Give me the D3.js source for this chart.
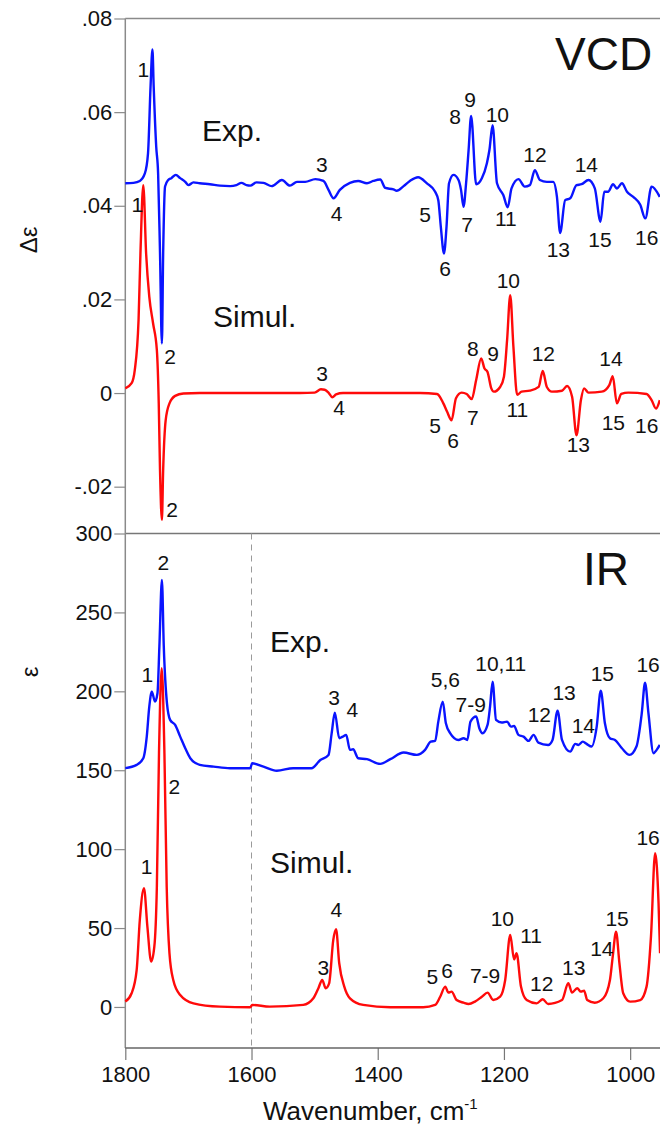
<!DOCTYPE html>
<html>
<head>
<meta charset="utf-8">
<script src="https://cdn.jsdelivr.net/npm/d3@7"></script>
<style>
  body { margin: 0; background: #fff; }
  svg { display: block; font-family: "Liberation Sans", Arial, Helvetica, sans-serif; }
</style>
</head>
<body>
<svg id="viz"></svg>
<script>
// wavenumber (cm-1), delta epsilon
const vcdExp = [[1800,.0448],[1787,.0449],[1777,.0453],[1769,.0469],[1764,.0512],[1760,.0654],[1757,.0734],[1755,.0654],[1751,.0526],[1748,.0469],[1745,.0299],[1742,.0106],[1740,.0299],[1737,.0441],[1732,.0455],[1727,.0459],[1720,.0466],[1713,.0459],[1705,.0451],[1700,.0444],[1692,.0450],[1682,.0448],[1666,.0446],[1650,.0443],[1634,.0442],[1624,.0444],[1616,.0449],[1608,.0444],[1602,.0443],[1592,.0450],[1581,.0449],[1568,.0442],[1552,.0455],[1539,.0443],[1528,.0451],[1515,.0451],[1499,.0457],[1486,.0453],[1478,.0434],[1470,.0416],[1460,.0434],[1444,.0449],[1431,.0453],[1417,.0448],[1407,.0453],[1396,.0456],[1388,.0438],[1375,.0435],[1370,.0432],[1359,.0442],[1349,.0453],[1336,.0461],[1322,.0448],[1309,.0430],[1304,.0412],[1300,.0355],[1295,.0298],[1291,.0355],[1287,.0448],[1280,.0466],[1272,.0455],[1268,.0434],[1264,.0398],[1260,.0448],[1256,.0519],[1252,.0592],[1244,.0446],[1235,.0459],[1227,.0491],[1223,.0519],[1218,.0572],[1211,.0448],[1201,.0423],[1194,.0397],[1188,.0437],[1177,.0457],[1167,.0441],[1159,.0444],[1151,.0476],[1143,.0455],[1132,.0451],[1122,.0451],[1116,.0419],[1111,.0342],[1103,.0412],[1095,.0416],[1085,.0444],[1077,.0446],[1066,.0455],[1056,.0437],[1047,.0366],[1041,.0430],[1035,.0430],[1027,.0446],[1021,.0437],[1013,.0448],[1005,.0430],[995,.0419],[984,.0402],[976,.0373],[966,.0441],[953,.0419]];

const vcdSim = [[1800,.0010],[1790,.0021],[1785,.0049],[1779,.0156],[1776,.0298],[1771.5,.0444],[1767,.0298],[1762,.0206],[1756,.0149],[1750,.0092],[1747,-.0022],[1745,-.0164],[1742,-.0271],[1740,-.0164],[1736,-.0058],[1730,-.0022],[1721,-.0006],[1708,-.0001],[1682,0],[1600,0],[1523,0],[1500,.0001],[1490,.0008],[1484,.0007],[1478,.0001],[1472,-.0009],[1466,-.0003],[1455,0],[1333,0],[1306,-.0002],[1296,-.0022],[1290,-.0040],[1283,-.0058],[1276,-.0011],[1267,.0001],[1259,-.0002],[1251,-.0013],[1244,.0028],[1236,.0074],[1231,.0053],[1226,.0045],[1220,.0010],[1216,.0003],[1206,.0013],[1200,.0035],[1195,.0113],[1190,.0209],[1185,.0099],[1179,-.0004],[1172,.0003],[1159,.0005],[1145,.0013],[1138.5,.0047],[1132,.0013],[1124,.0003],[1108,.0005],[1100,.0015],[1092,-.0008],[1085,-.0090],[1078,-.0015],[1073,.0010],[1066,.0001],[1045,.0003],[1033,.0017],[1027.6,.0036],[1021,-.0022],[1014,-.0002],[1003,.0001],[974,-.0002],[966,-.0015],[959,-.0033],[953,-.0015]];

// wavenumber (cm-1), epsilon
const irExp = [[1800,151.3],[1782,153.4],[1771.5,157.6],[1766,171.3],[1762,190.3],[1758,199.8],[1753,193.5],[1749,198.8],[1746,228.3],[1742,270.6],[1739,228.3],[1734,192.5],[1729,181.9],[1721,178.7],[1713,171.3],[1705,163.9],[1697,157.6],[1682,153.4],[1660,152.3],[1634,151.3],[1602,151.3],[1599,154.4],[1581,152.3],[1560,149.7],[1534,151.3],[1505,151.3],[1491,156.5],[1478,159.7],[1473,173.4],[1468,186.5],[1461,170.3],[1455.5,171.3],[1450,172.4],[1444,162.9],[1439,163.3],[1431,157.6],[1417,157.0],[1396,154.0],[1380,157.0],[1359,161.2],[1338,159.7],[1325,162.9],[1316,168.1],[1309,168.6],[1304,180.8],[1297,193.5],[1292,179.8],[1285,173.4],[1272,169.2],[1264,170.3],[1258,169.2],[1253,180.8],[1244,184.0],[1239,176.6],[1234,173.4],[1226,178.7],[1222,190.3],[1218,206.1],[1212.5,181.9],[1203.5,180.2],[1195,180.8],[1189,177.6],[1184,178.1],[1177,172.4],[1169,171.3],[1161,168.6],[1153,172.4],[1145.5,167.5],[1130,166.0],[1123,169.2],[1115,187.8],[1108,169.2],[1095,161.8],[1087,166.7],[1082,166.0],[1075,168.1],[1069,166.7],[1061,165.0],[1053,177.6],[1046.6,200.4],[1040,179.8],[1032,170.3],[1024,169.2],[1013,163.9],[1001,159.7],[990,165.0],[981.6,186.1],[976.4,205.5],[971,186.1],[963,160.8],[958,162.9],[953,166.0]];

const irSim = [[1800,3.4],[1790,8.7],[1782,23.4],[1777,55.1],[1770.4,75.2],[1765,50.9],[1759,28.7],[1754,38.2],[1750,76.2],[1746.6,160.8],[1742.3,214.6],[1738,160.8],[1734.4,76.2],[1730,34.0],[1724,17.1],[1713,7.6],[1692,2.3],[1650,0.2],[1602,-0.2],[1599,1.3],[1571,0.2],[1518,1.3],[1502,5.5],[1494,11.9],[1488,17.1],[1482.4,11.9],[1477,15.0],[1470.4,42.5],[1466,49.2],[1461,27.7],[1453,12.9],[1444,5.5],[1423,1.3],[1380,-0.2],[1328,-0.2],[1309,1.3],[1301,6.5],[1293,12.9],[1288,9.1],[1283,9.7],[1275,4.4],[1264,2.7],[1256,1.9],[1246,3.4],[1235,6.5],[1226,9.1],[1217,4.4],[1206,6.5],[1198,17.1],[1190,45.6],[1184,30.2],[1180,34.0],[1173,12.9],[1164,4.4],[1148,2.3],[1138.5,4.9],[1130,1.9],[1108,4.4],[1098,15.0],[1092,9.1],[1084,11.9],[1078,9.7],[1073,10.3],[1068,4.4],[1056,2.7],[1042.5,5.5],[1032,17.1],[1027.6,31.9],[1022.3,47.7],[1017,27.7],[1011,8.7],[1000,3.4],[984,4.4],[974,12.9],[967,44.6],[960.4,97.4],[955,65.7],[952.6,34.0]];

// axis ticks
const xTicks = [1800, 1600, 1400, 1200, 1000];
const vcdTicks = [0.08, 0.06, 0.04, 0.02, 0, -0.02];
const irTicks = [300, 250, 200, 150, 100, 50, 0];

// band labels: text, wavenumber, value
const vcdExpLabels = [["1",1771.5,.0676],["2",1729,.0063],["3",1488.7,.0473],["4",1465,.0368],["5",1325,.0366],["6",1293.3,.0250],["7",1258.5,.0345],["8",1277.5,.0575],["9",1253.7,.0611],["10",1210.5,.0579],["11",1197,.0357],["12",1150.7,.0494],["13",1113.8,.0291],["14",1069.4,.0473],["15",1047.7,.0312],["16",973.7,.0316]];
const vcdSimLabels = [["1",1781,.0387],["2",1726,-.0264],["3",1488.3,.0026],["4",1461.3,-.0047],["5",1309.2,-.0086],["6",1280.7,-.0118],["7",1249.4,-.0068],["8",1249.4,.0079],["9",1217.3,.0069],["10",1193,.0224],["11",1178.8,-.0051],["12",1137.6,.0069],["13",1082.1,-.0125],["14",1030.3,.0058],["15",1026.6,-.0078],["16",973.7,-.0086]];
const irExpLabels = [["1",1765.1,206.1],["2",1739.8,276.9],["3",1469.2,191.4],["4",1440.2,183.6],["5,6",1292.9,203.0],["7-9",1252.6,187.1],["10,11",1205.1,213.1],["12",1143.9,180.8],["13",1104.7,194.5],["14",1074.2,173.4],["15",1044,206.8],["16",971.6,212.5]];
const irSimLabels = [["1",1766.1,84.3],["2",1722.3,135.0],["3",1486.2,20.3],["4",1465.6,57.2],["5",1313.5,14.6],["6",1290.2,18.2],["7-9",1229.9,15.4],["10",1202.5,51.3],["11",1157,40.7],["12",1140.1,10.3],["13",1089.4,20.3],["14",1044.8,32.3],["15",1020.7,51.3],["16",971.6,102.7]];

const width = 660, height = 1132;
const BLUE = "#0a14ff", RED = "#ff0a0a", FRAME = "#8a8a8a";

let svg = d3.select("#viz").attr("width", width).attr("height", height);
svg.append("rect").attr("width", width).attr("height", height).attr("fill", "#fff");

let x = d3.scaleLinear().domain([1800, 950]).range([125.3, 661.7]);
let yV = d3.scaleLinear().domain([-0.03, 0.08]).range([533.5, 18.5]);
let yI = d3.scaleLinear().domain([-26, 300]).range([1048, 533.5]);

function vcdFormat(v) {
	if (v === 0) return "0";
	return d3.format(".2f")(v).replace("\u2212", "-").replace("0.", ".");
}

// frame lines
svg.append("line").attr("x1", x(1800)).attr("x2", width).attr("y1", yV(0.08)).attr("y2", yV(0.08))
	.attr("stroke", FRAME).attr("stroke-width", 1.5);
svg.append("line").attr("x1", x(1800)).attr("x2", width).attr("y1", yV(-0.03)).attr("y2", yV(-0.03))
	.attr("stroke", "#777").attr("stroke-width", 1.5);
svg.append("line").attr("x1", x(1800)).attr("x2", x(1800)).attr("y1", yV(0.08)).attr("y2", yI.range()[0])
	.attr("stroke", FRAME).attr("stroke-width", 1.5);

// dashed line at 1600 in the IR panel
svg.append("line").attr("x1", x(1600)).attr("x2", x(1600)).attr("y1", yI(300)).attr("y2", yI(-26))
	.attr("stroke", "#9a9a9a").attr("stroke-width", 1).attr("stroke-dasharray", "6,5");

function styleAxis(g) {
	g.select(".domain").remove();
	g.selectAll(".tick line").attr("stroke", FRAME).attr("stroke-width", 1.2);
	g.selectAll(".tick text").attr("fill", "#111").attr("font-size", 22)
		.attr("font-family", "'Liberation Sans', Arial, Helvetica, sans-serif");
}

svg.append("g").attr("transform", "translate(" + x(1800) + ",0)")
	.call(d3.axisLeft(yV).tickValues(vcdTicks).tickFormat(vcdFormat).tickSize(11).tickPadding(2).tickSizeOuter(0))
	.call(styleAxis);

svg.append("g").attr("transform", "translate(" + x(1800) + ",0)")
	.call(d3.axisLeft(yI).tickValues(irTicks).tickFormat(d3.format("d")).tickSize(11).tickPadding(2).tickSizeOuter(0))
	.call(styleAxis);

let xAxis = svg.append("g").attr("transform", "translate(0," + yI(-26) + ")")
	.call(d3.axisBottom(x).tickValues(xTicks).tickFormat(d3.format("d")).tickSize(12).tickPadding(6).tickSizeOuter(0));
xAxis.select(".domain").remove();
xAxis.selectAll(".tick line").attr("stroke", "#777").attr("stroke-width", 1.2);
xAxis.selectAll(".tick text").attr("fill", "#111").attr("font-size", 22)
	.attr("font-family", "'Liberation Sans', Arial, Helvetica, sans-serif");
svg.append("line").attr("x1", x(1800)).attr("x2", width).attr("y1", yI(-26)).attr("y2", yI(-26))
	.attr("stroke", "#666").attr("stroke-width", 1.5);

// spectra
function drawLine(data, y, color) {
	let line = d3.line()
		.x(function(d) { return x(d[0]); })
		.y(function(d) { return y(d[1]); })
		.curve(d3.curveMonotoneX);
	svg.append("path").datum(data)
		.attr("d", line)
		.attr("fill", "none")
		.attr("stroke", color)
		.attr("stroke-width", 2.4)
		.attr("stroke-linejoin", "round");
}

drawLine(vcdExp, yV, BLUE);
drawLine(vcdSim, yV, RED);
drawLine(irExp, yI, BLUE);
drawLine(irSim, yI, RED);

// band numbers
function drawLabels(labels, y) {
	svg.append("g").selectAll("text")
		.data(labels)
		.enter()
		.append("text")
		.attr("x", function(d) { return x(d[1]); })
		.attr("y", function(d) { return y(d[2]); })
		.attr("text-anchor", "middle")
		.attr("font-size", 21)
		.attr("fill", "#111")
		.text(function(d) { return d[0]; });
}

drawLabels(vcdExpLabels, yV);
drawLabels(vcdSimLabels, yV);
drawLabels(irExpLabels, yI);
drawLabels(irSimLabels, yI);

// panel texts
function addText(t, px, py, size) {
	return svg.append("text").attr("x", px).attr("y", py)
		.attr("font-size", size).attr("fill", "#111").text(t);
}
addText("VCD", 555, 70, 46);
addText("IR", 583, 585, 46);
addText("Exp.", 202, 141, 30);
addText("Simul.", 213, 327, 30);
addText("Exp.", 270, 652, 30);
addText("Simul.", 270, 873, 30);

// axis titles
svg.append("text").attr("transform", "translate(37,240) rotate(-90)")
	.attr("text-anchor", "middle").attr("font-size", 24).attr("fill", "#111").text("\u0394\u03b5");
svg.append("text").attr("transform", "translate(38,672) rotate(-90)")
	.attr("text-anchor", "middle").attr("font-size", 24).attr("fill", "#111").text("\u03b5");

let title = svg.append("text").attr("x", 263).attr("y", 1120)
	.attr("font-size", 26).attr("fill", "#111");
title.append("tspan").text("Wavenumber, cm");
title.append("tspan").attr("font-size", 15).attr("dy", -11).text("-1");
</script>
</body>
</html>
